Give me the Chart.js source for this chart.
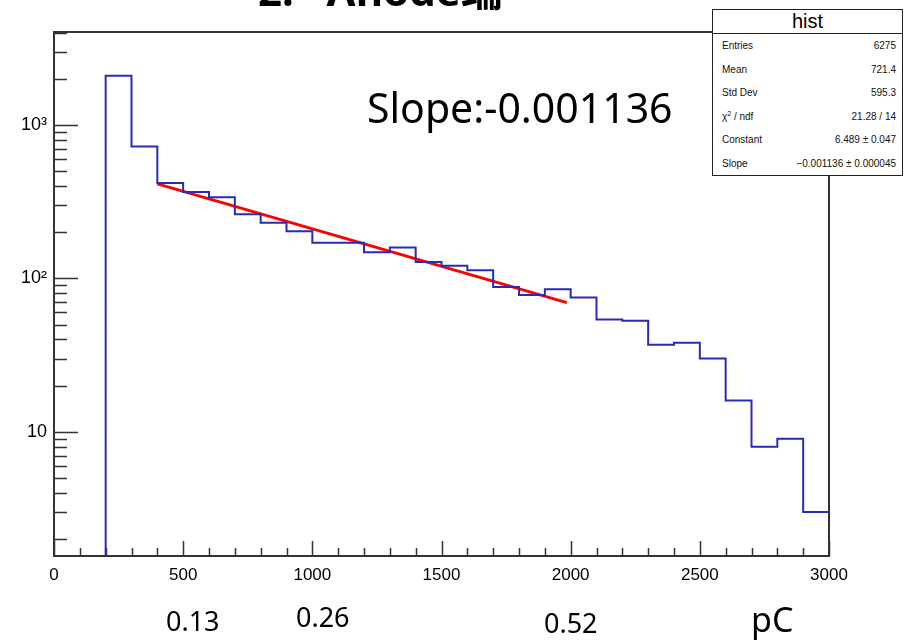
<!DOCTYPE html>
<html>
<head>
<meta charset="utf-8">
<title>hist - Anode</title>
<script src="https://cdn.jsdelivr.net/npm/chart.js@4.4.1/dist/chart.umd.min.js"></script>
<style>
  html, body { margin: 0; padding: 0; background: #fff; }
  #wrap { position: relative; width: 904px; height: 640px; overflow: hidden; }
  #chart { position: absolute; left: 0; top: 0; }
  .txt { position: absolute; white-space: pre; line-height: 1; color: #000; font-family: 'Noto Sans', 'Open Sans', sans-serif; }
  .title { left: 258px; top: -31px; font-size: 42px; font-weight: bold; font-family: 'Noto Sans', 'Noto Sans CJK SC', sans-serif; }
  .slope { left: 367px; top: 87px; font-size: 41px; }
  .lbl { font-size: 27px; }
  .stats { position: absolute; left: 712px; top: 9px; width: 191px; height: 167px; box-sizing: border-box;
           border: 1px solid #222; background: #fff; font-family: 'Liberation Sans', Arial, sans-serif; }
  .stats .head { height: 23px; border-bottom: 1px solid #222; text-align: center; font-size: 20px; line-height: 23px; }
  .stats .row { display: flex; justify-content: space-between; height: 23.6px; line-height: 23.6px;
                font-size: 10px; padding: 0 6px 0 9px; color: #111; }
  .stats sup { font-size: 7px; line-height: 0; }
</style>
</head>
<body>
<div id="wrap">
  <canvas id="chart" width="904" height="640"></canvas>
  <div class="txt title">2.   Anode端</div>
  <div class="txt slope">Slope:-0.001136</div>
  <div class="stats">
    <div class="head">hist</div>
    <div class="row"><span>Entries</span><span>6275</span></div>
    <div class="row"><span>Mean</span><span>721.4</span></div>
    <div class="row"><span>Std Dev</span><span>595.3</span></div>
    <div class="row"><span>χ<sup>2</sup> / ndf</span><span>21.28 / 14</span></div>
    <div class="row"><span>Constant</span><span>6.489 ± 0.047</span></div>
    <div class="row"><span>Slope</span><span>−0.001136 ± 0.000045</span></div>
  </div>
  <div class="txt lbl" style="left:166px; top:607px;">0.13</div>
  <div class="txt lbl" style="left:296px; top:603px;">0.26</div>
  <div class="txt lbl" style="left:544px; top:609px;">0.52</div>
  <div class="txt" style="left:751px; top:602px; font-size:34px;">pC</div>
</div>
<script>
// histogram: lower bin edges and counts (bin width 100)
const binLowEdges = [200, 300, 400, 500, 600, 700, 800, 900, 1000, 1100, 1200, 1300, 1400, 1500,
  1600, 1700, 1800, 1900, 2000, 2100, 2200, 2300, 2400, 2500, 2600, 2700, 2800, 2900];
const binCounts = [2094, 723, 419, 366, 338, 262, 231, 203, 171, 171, 148, 159, 128, 121,
  113, 88, 78, 85, 75, 54, 53, 37, 38, 30, 16, 8, 9, 3];
const lastBinHigh = 3000;

// exponential fit drawn
const fitX = [400, 1985];
const fitY = [413, 69.5];

const xTicks = [0, 500, 1000, 1500, 2000, 2500, 3000];
const yTicks = [10, 100, 1000];
const yTickLabels = ['10', '10²', '10³'];

const X_MIN = 0, X_MAX = 3000;
const Y_MIN = 1.55, Y_MAX = 4040;

// build stepped points: start below the axis so the first edge is drawn
const histPoints = [{ x: binLowEdges[0], y: 1 }];
binLowEdges.forEach((x, i) => histPoints.push({ x: x, y: binCounts[i] }));
histPoints.push({ x: lastBinHigh, y: binCounts[binCounts.length - 1] });

const fitPoints = fitX.map((x, i) => ({ x: x, y: fitY[i] }));

// ROOT style frame with inward ticks
const frameTicks = {
  id: 'frameTicks',
  beforeDatasetsDraw(chart) {
    const { ctx, chartArea: a, scales } = chart;
    const xs = scales.x, ys = scales.y;
    ctx.save();
    ctx.strokeStyle = '#333';
    ctx.lineWidth = 1.5;
    ctx.beginPath();
    // x ticks every 100, major every 500
    for (let v = X_MIN; v <= X_MAX; v += 100) {
      const px = Math.round(xs.getPixelForValue(v)) + 0.5;
      const len = v % 500 === 0 ? 15 : 8;
      ctx.moveTo(px, a.bottom);
      ctx.lineTo(px, a.bottom - len);
    }
    // y log ticks
    for (let dec = 1; dec <= 1000; dec *= 10) {
      for (let m = 1; m <= 9; m++) {
        const v = dec * m;
        if (v < Y_MIN || v > Y_MAX) continue;
        const py = Math.round(ys.getPixelForValue(v)) + 0.5;
        if (py <= a.top + 1) continue;
        const len = m === 1 ? 24 : 13;
        ctx.moveTo(a.left, py);
        ctx.lineTo(a.left + len, py);
      }
    }
    ctx.stroke();
    ctx.lineWidth = 2;
    ctx.strokeRect(a.left, a.top, a.right - a.left, a.bottom - a.top);
    ctx.restore();
  }
};

Chart.defaults.font.family = "'Liberation Sans', Arial, sans-serif";
Chart.defaults.color = '#000';

new Chart(document.getElementById('chart').getContext('2d'), {
  type: 'line',
  data: {
    datasets: [{
      label: 'hist',
      data: histPoints,
      borderColor: '#2a2ab4',
      borderWidth: 2,
      pointRadius: 0,
      stepped: 'before',
      fill: false
    }, {
      label: 'fit',
      data: fitPoints,
      borderColor: '#ff0000',
      borderWidth: 3,
      pointRadius: 0,
      fill: false
    }]
  },
  options: {
    responsive: false,
    animation: false,
    devicePixelRatio: 1,
    layout: { padding: { left: 0, top: 32, right: 75, bottom: 44 } },
    plugins: {
      legend: { display: false },
      tooltip: { enabled: false }
    },
    scales: {
      x: {
        type: 'linear',
        min: X_MIN,
        max: X_MAX,
        grid: { display: false, drawTicks: false },
        border: { display: false },
        afterBuildTicks: (s) => { s.ticks = xTicks.map(v => ({ value: v })); },
        afterFit: (s) => { s.height = 40; },
        ticks: {
          autoSkip: false,
          maxRotation: 0,
          padding: 9,
          font: { size: 17 },
          callback: (v) => String(v)
        }
      },
      y: {
        type: 'logarithmic',
        min: Y_MIN,
        max: Y_MAX,
        grid: { display: false, drawTicks: false },
        border: { display: false },
        afterBuildTicks: (s) => { s.ticks = yTicks.map(v => ({ value: v })); },
        afterFit: (s) => { s.width = 54; },
        ticks: {
          autoSkip: false,
          padding: 7,
          font: { size: 18 },
          callback: (v) => {
            const i = yTicks.indexOf(v);
            return i >= 0 ? yTickLabels[i] : '';
          }
        }
      }
    }
  },
  plugins: [frameTicks]
});
</script>
</body>
</html>
